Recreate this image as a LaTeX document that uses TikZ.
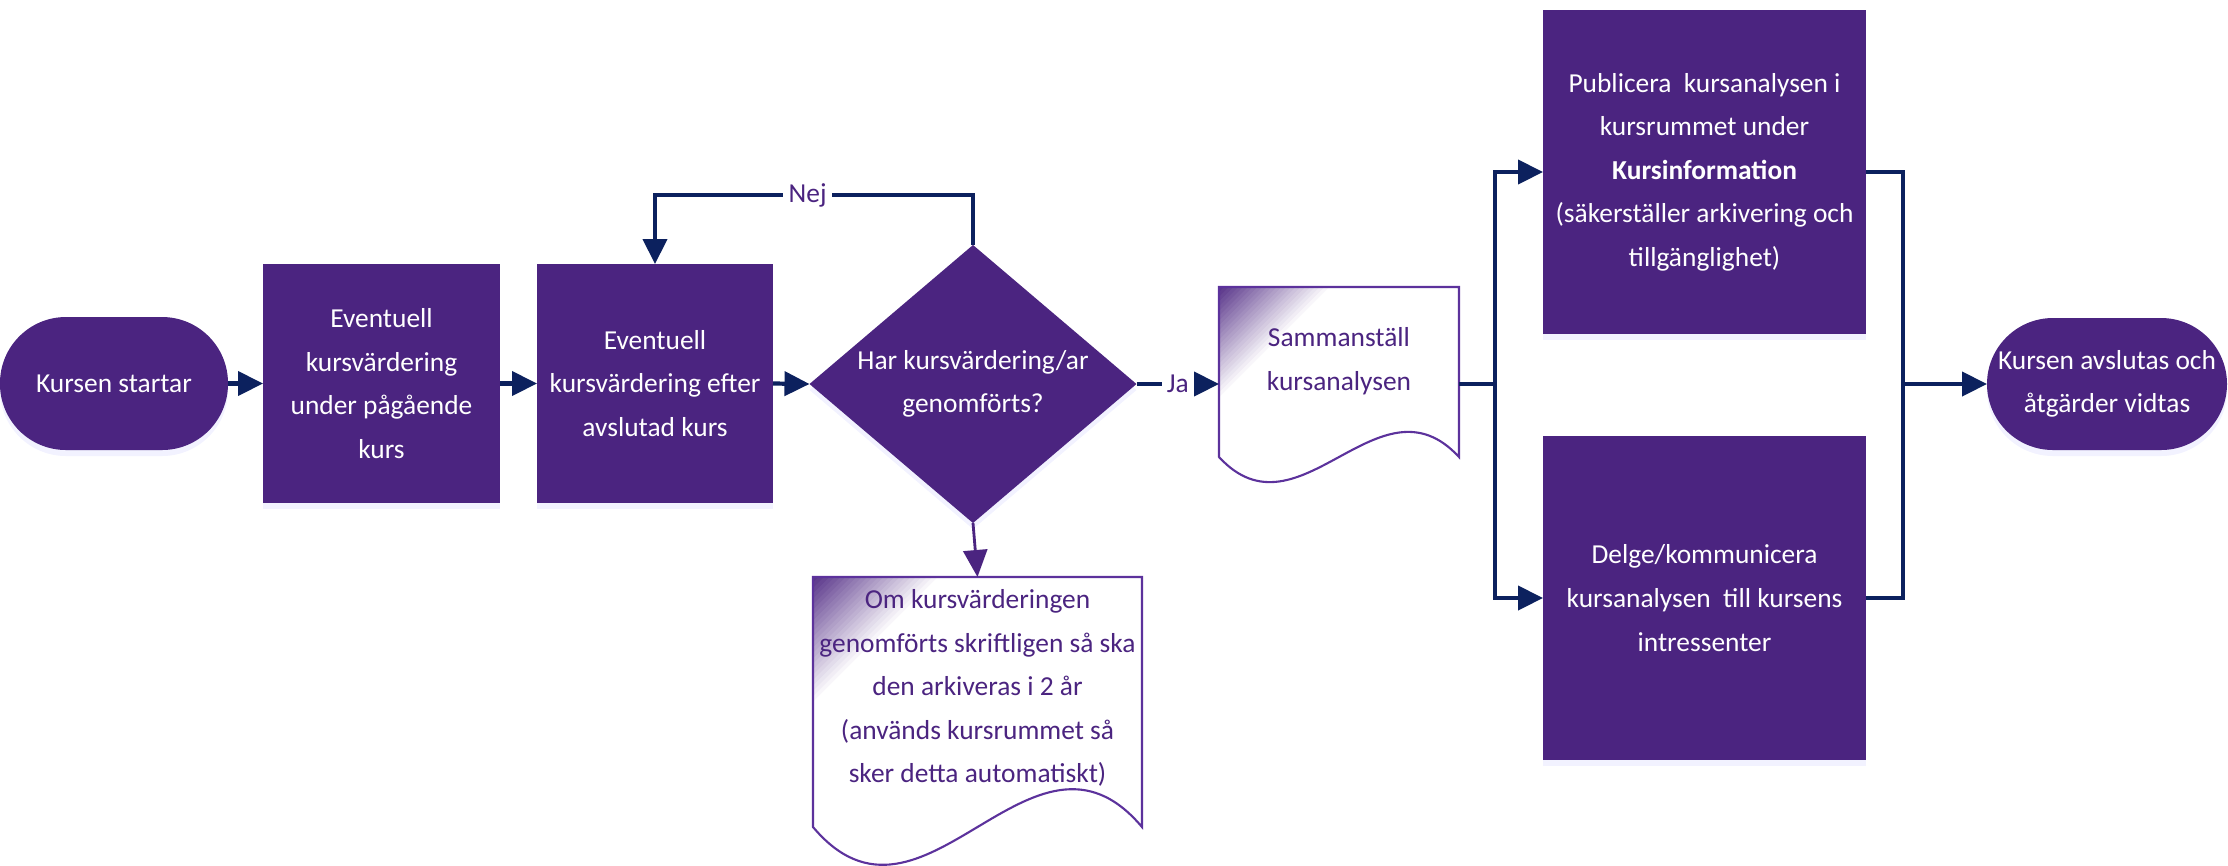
\documentclass[tikz,border=0pt]{standalone}
\usepackage{fontspec}
\setmainfont{Carlito}
\usetikzlibrary{arrows.meta,shapes.geometric,shadows,backgrounds}

\definecolor{boxpurple}{RGB}{75,36,128}
\definecolor{arrownavy}{RGB}{12,33,94}
\definecolor{docpurple}{RGB}{92,50,156}

\begin{document}
\begin{tikzpicture}[x=1cm,y=-1cm,
  every node/.style={font=\fontsize{7.8}{12.4}\selectfont, align=center, inner sep=0pt, outer sep=0pt},
  softshadow/.style={drop shadow={shadow xshift=0cm, shadow yshift=-0.06cm, opacity=0.35, fill=blue!15}},
  box/.style={rectangle, fill=boxpurple, text=white, softshadow},
  term/.style={box, rounded corners=0.66cm},
  decision/.style={diamond, fill=boxpurple, minimum width=3.27cm, minimum height=2.78cm, softshadow},
  doc/.style={rectangle, text=boxpurple},
  docline/.style={draw=docpurple, line width=0.6pt, fill=white},
  cornerfade/.style={path picture={
    \foreach \i [evaluate=\i as \pct using 96-4*\i] in {24,23,...,1}
      \fill[boxpurple!\pct] (path picture bounding box.north west) -- +(#1*\i/24,0) -- +(0,#1*\i/24) -- cycle;}},
  arrowline/.style={draw=arrownavy, line width=1.2pt},
  flow/.style={arrowline, -{Triangle[length=0.25cm, width=0.24cm]}},
  purpleflow/.style={draw=boxpurple, line width=0.8pt, -{Triangle[length=0.27cm, width=0.24cm]}},
  answer/.style={fill=white, text=boxpurple, inner xsep=1.5pt}]

\useasboundingbox (0,0) rectangle (22.28,8.65);

\node[term, minimum width=2.28cm, minimum height=1.33cm] (start) at (1.14,3.835) {Kursen startar};
\node[box, minimum width=2.37cm, minimum height=2.39cm] (eval1) at (3.815,3.835) {Eventuell\\kursvärdering\\under pågående\\kurs};
\node[box, minimum width=2.36cm, minimum height=2.39cm] (eval2) at (6.55,3.835) {Eventuell\\kursvärdering efter\\avslutad kurs};
\node[decision, label={[text=white]center:Har kursvärdering/ar\\genomförts?}] (check) at (9.73,3.84) {};
\node[doc, minimum width=2.40cm, minimum height=1.48cm] (summary) at (13.39,3.61) {Sammanställ\\kursanalysen};
\node[doc, minimum width=3.29cm, minimum height=2.22cm] (archive) at (9.775,6.88) {Om kursvärderingen\\genomförts skriftligen så ska\\den arkiveras i 2 år\\(används kursrummet så\\sker detta automatiskt)};
\node[box, minimum width=3.23cm, minimum height=3.24cm] (publish) at (17.045,1.72) {Publicera~ kursanalysen i\\kursrummet under\\\textbf{Kursinformation}\\(säkerställer arkivering och\\tillgänglighet)};
\node[box, minimum width=3.23cm, minimum height=3.24cm] (share) at (17.045,5.98) {Delge/kommunicera\\kursanalysen~ till kursens\\intressenter};
\node[term, minimum width=2.40cm, minimum height=1.32cm] (finish) at (21.07,3.84) {Kursen avslutas och\\åtgärder vidtas};

\begin{scope}[on background layer]
\draw[docline, cornerfade=1.15]
  (summary.north west) -- (summary.north east) -- (summary.south east) -- ++(0,0.22)
  .. controls +(-0.8,-0.87) and +(0.8,0.87) .. ++(-2.40,0) -- cycle;
\draw[docline, cornerfade=1.3]
  (archive.north west) -- (archive.north east) -- (archive.south east) -- ++(0,0.28)
  .. controls +(-1.1,-1.31) and +(1.1,1.31) .. ++(-3.29,0) -- cycle;
\end{scope}

\draw[flow] (start.east) -- (eval1.west);
\draw[flow] (eval1.east) -- (eval2.west);
\draw[flow] (eval2.east) -- (check.west);
\draw[flow] (check.north) -- ++(0,-0.5) -| node[pos=0.26, answer] {Nej} (eval2.north);
\draw[flow] (check.east) -- node[answer] {Ja} (check.east -| summary.west);
\draw[purpleflow] (check.south) -- (archive.north);
\draw[flow] (summary.east |- check.east) -- ++(0.36,0) coordinate (split) |- (publish.west);
\draw[flow] (split) |- (share.west);
\draw[arrowline] (publish.east) -- ++(0.37,0) coordinate (merge) |- (share.east);
\draw[flow] (merge |- finish.west) -- (finish.west);
\end{tikzpicture}
\end{document}
